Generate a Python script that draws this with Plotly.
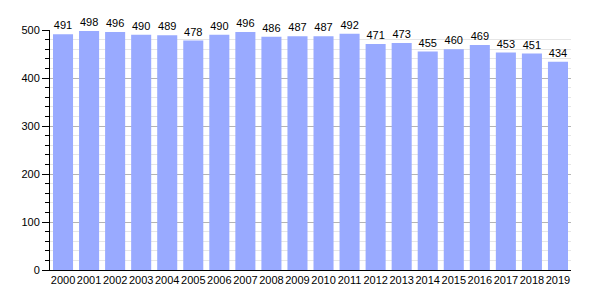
import plotly.graph_objects as go

years = [str(y) for y in range(2000, 2020)]
values = [491, 498, 496, 490, 489, 478, 490, 496, 486, 487, 487, 492, 471, 473, 455, 460, 469, 453, 451, 434]

fig = go.Figure(go.Bar(
    x=years, y=values,
    marker=dict(color="#99aaff", line=dict(width=0)),
    text=[str(v) for v in values], textposition="outside",
    textfont=dict(size=11, color="black", family="Liberation Sans"),
    cliponaxis=False,
))
fig.update_layout(
    width=600, height=300,
    margin=dict(l=50, r=29, t=30, b=30, autoexpand=False),
    paper_bgcolor="white", plot_bgcolor="white",
    bargap=0.23, showlegend=False,
    font=dict(family="Liberation Sans", size=11, color="black"),
    xaxis=dict(type="category", showline=True, linecolor="black", linewidth=1,
               ticks="", tickangle=0, tickfont=dict(size=11), showgrid=False,
               automargin=False),
    yaxis=dict(range=[0, 500], dtick=100, showline=True, linecolor="black", linewidth=1,
               ticks="outside", ticklen=7, tickcolor="black", showgrid=True,
               gridcolor="#b4b4b4", gridwidth=1, zeroline=False, automargin=False,
               minor=dict(dtick=20, ticks="outside", ticklen=4, tickcolor="black",
                          showgrid=True, gridcolor="#e6e6e6")),
)
fig.write_html("out.html")
